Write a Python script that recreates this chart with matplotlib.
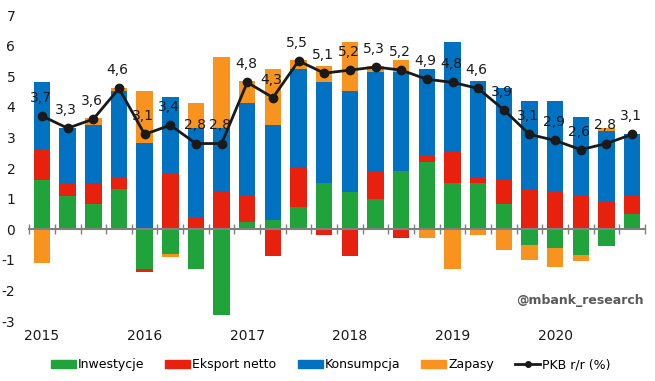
import matplotlib
matplotlib.use("Agg")
import matplotlib.pyplot as plt
import numpy as np
from matplotlib.patches import Patch
from matplotlib.lines import Line2D
import matplotlib.transforms as mtransforms

years = ["2015", "2016", "2017", "2018", "2019", "2020"]
inwestycje = [1.6, 1.1, 0.82, 1.3, -1.29, -0.8, -1.29, -2.79, 0.22, 0.31, 0.71, 1.52,
              1.21, 1.0, 1.91, 2.2, 1.52, 1.52, 0.82, -0.5, -0.63, -0.83, -0.55, 0.51]
eksport = [1.0, 0.42, 0.7, 0.4, -0.11, 1.81, 0.38, 1.21, 0.88, -0.89, 1.3, -0.2,
           -0.89, 0.91, -0.29, 0.21, 0.99, 0.19, 0.79, 1.31, 1.21, 1.11, 0.91, 0.61]
konsumpcja = [2.2, 1.8, 1.9, 2.83, 2.81, 2.52, 2.93, 2.1, 3.01, 3.1, 3.22, 3.29,
              3.32, 3.22, 3.22, 2.81, 3.62, 3.12, 3.0, 2.88, 2.98, 2.56, 2.3, 1.98]
zapasy = [-1.1, 0.0, 0.22, 0.1, 1.72, -0.1, 0.81, 2.32, 0.72, 1.81, 0.31, 0.52,
          1.6, 0.2, 0.4, -0.29, -1.29, -0.2, -0.69, -0.51, -0.6, -0.22, 0.1, 0.0]
pkb = [3.7, 3.3, 3.6, 4.6, 3.1, 3.4, 2.8, 2.8, 4.8, 4.3, 5.5, 5.1,
       5.2, 5.3, 5.2, 4.9, 4.8, 4.6, 3.9, 3.1, 2.9, 2.6, 2.8, 3.1]

series = [("Inwestycje", inwestycje, "#1FA33A"),
          ("Eksport netto", eksport, "#E8210F"),
          ("Konsumpcja", konsumpcja, "#0072C1"),
          ("Zapasy", zapasy, "#F7931E")]

plt.rcParams['font.family'] = ['DejaVu Sans']
fig = plt.figure(figsize=(6.55, 3.81), dpi=100)
ax = fig.add_axes([0.0446, 0.1414, 0.940, 0.8272])

n = len(pkb)
x = np.arange(n)
pos_base = np.zeros(n)
neg_base = np.zeros(n)
for name, vals, col in series:
    v = np.array(vals)
    bottoms = np.where(v >= 0, pos_base, neg_base)
    ax.bar(x, v, 0.64, bottom=bottoms, color=col, linewidth=0, zorder=2)
    pos_base = pos_base + np.where(v > 0, v, 0)
    neg_base = neg_base + np.where(v < 0, v, 0)

ax.plot(x, pkb, color="#1a1a1a", lw=2, marker="o", ms=6, zorder=4)
for xi, yi in zip(x, pkb):
    ax.annotate(f"{yi:.1f}".replace(".", ","), (xi, yi), xytext=(-1, 8),
                textcoords="offset points", ha="center", va="bottom",
                fontsize=10, color="#1a1a1a", zorder=5)

ax.set_xlim(-0.5, n - 0.5)
ax.set_ylim(-3.2, 7.1)
ax.set_yticks(range(-3, 8))
ax.set_yticklabels([str(v) for v in range(-3, 8)], fontsize=10, color="#1a1a1a")
ax.tick_params(axis="y", length=0, pad=10)

for s in ["top", "right", "left"]:
    ax.spines[s].set_visible(False)
ax.spines["bottom"].set_position(("data", 0))
ax.spines["bottom"].set_color("#808080")
ax.spines["bottom"].set_linewidth(1.5)
ax.spines["bottom"].set_zorder(3)
ax.set_xticks(np.arange(-0.5, n, 1))
ax.set_xticklabels([])
ax.tick_params(axis="x", direction="inout", length=7, width=1, color="#808080")

trans = mtransforms.blended_transform_factory(ax.transData, ax.transAxes)
for i, yr in enumerate(years):
    ax.text(i * 4, -0.005, yr, transform=trans, ha="center", va="top",
            fontsize=10, color="#1a1a1a")

ax.text(0.998, 0.086, "@mbank_research", transform=ax.transAxes, ha="right",
        va="center", fontsize=9, fontweight="bold", color="#5a5a5a")

handles = [Patch(color=c, label=nm) for nm, _, c in series]
handles.append(Line2D([0], [0], color="#1a1a1a", lw=2, marker="o", ms=4,
                      label="PKB r/r (%)"))
fig.legend(handles=handles, loc="center", bbox_to_anchor=(0.505, 0.042), ncol=5,
           frameon=False, fontsize=9, handlelength=2.0, handleheight=0.6,
           handletextpad=0.15, columnspacing=1.7)

fig.savefig("out.png", dpi=100)
